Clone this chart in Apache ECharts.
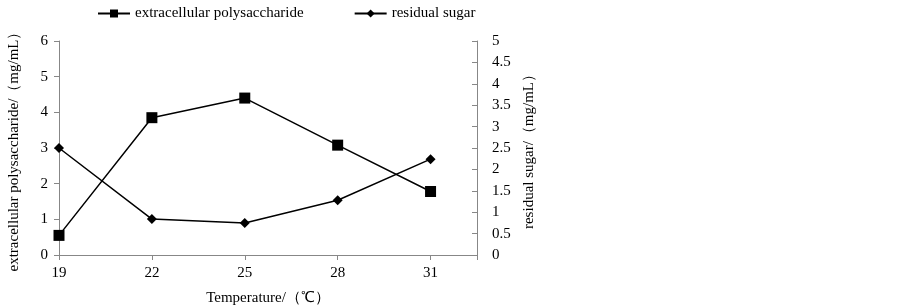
<!DOCTYPE html>
<html>
<head>
<meta charset="utf-8">
<script src="https://cdn.jsdelivr.net/npm/echarts@6/dist/echarts.min.js"></script>
<style>
  html, body { margin: 0; padding: 0; background: #fff; }
  #main { width: 902px; height: 308px; }
</style>
</head>
<body>
<div id="main"></div>
<script>
var myChart = echarts.init(document.getElementById('main'));

// data
var temperatures = [19, 22, 25, 28, 31];
var polysaccharide = [0.55, 3.85, 4.4, 3.08, 1.78];   // left axis, mg/mL
var residualSugar = [2.5, 0.84, 0.75, 1.28, 2.24];     // right axis, mg/mL
var seriesNames = ['extracellular polysaccharide', 'residual sugar'];

function pairs(xs, ys) {
    var out = [];
    for (var i = 0; i < xs.length; i++) out.push([xs[i], ys[i]]);
    return out;
}

var font = 'Liberation Serif';
var axisColor = '#878787';

option = {
    animation: false,
    textStyle: { fontFamily: font, color: '#000' },
    legend: {
        data: seriesNames,
        top: 1,
        left: 92,
        itemWidth: 32,
        itemHeight: 10,
        itemGap: 50,
        textStyle: { fontFamily: font, fontSize: 15, color: '#000' }
    },
    grid: { left: 59, right: 425, top: 41, bottom: 53, outerBoundsMode: 'none' },
    xAxis: {
        type: 'value',
        min: 19,
        max: 32.5,
        interval: 3,
        name: 'Temperature/（℃）',
        nameLocation: 'middle',
        nameGap: 36,
        nameTextStyle: { fontFamily: font, fontSize: 15, color: '#000' },
        axisLine: { lineStyle: { color: axisColor } },
        axisTick: { length: 5, lineStyle: { color: axisColor } },
        splitLine: { show: false },
        axisLabel: {
            fontFamily: font, fontSize: 15, color: '#000', margin: 11,
            formatter: function (v) { return v > 31 ? '' : v; }
        }
    },
    yAxis: [{
        type: 'value',
        min: 0,
        max: 6,
        interval: 1,
        name: 'extracellular polysaccharide/（mg/mL）',
        nameLocation: 'middle',
        nameGap: 37,
        nameTextStyle: { fontFamily: font, fontSize: 15, color: '#000' },
        axisLine: { show: true, lineStyle: { color: axisColor } },
        axisTick: { show: true, length: 5, lineStyle: { color: axisColor } },
        splitLine: { show: false },
        axisLabel: { fontFamily: font, fontSize: 15, color: '#000', margin: 11 }
    }, {
        type: 'value',
        min: 0,
        max: 5,
        interval: 0.5,
        name: 'residual sugar/（mg/mL）',
        nameLocation: 'middle',
        nameGap: 45,
        nameRotate: 90,
        nameTextStyle: { fontFamily: font, fontSize: 15, color: '#000' },
        axisLine: { show: true, lineStyle: { color: axisColor } },
        axisTick: { show: true, inside: true, length: 5, lineStyle: { color: axisColor } },
        splitLine: { show: false },
        axisLabel: { fontFamily: font, fontSize: 15, color: '#000', margin: 15 }
    }],
    series: [{
        name: seriesNames[0],
        type: 'line',
        yAxisIndex: 0,
        data: pairs(temperatures, polysaccharide),
        symbol: 'rect',
        symbolSize: 11,
        lineStyle: { color: '#000', width: 1.5 },
        itemStyle: { color: '#000' }
    }, {
        name: seriesNames[1],
        type: 'line',
        yAxisIndex: 1,
        data: pairs(temperatures, residualSugar),
        symbol: 'diamond',
        symbolSize: 10,
        lineStyle: { color: '#000', width: 1.5 },
        itemStyle: { color: '#000' }
    }]
};

myChart.setOption(option);
</script>
</body>
</html>
